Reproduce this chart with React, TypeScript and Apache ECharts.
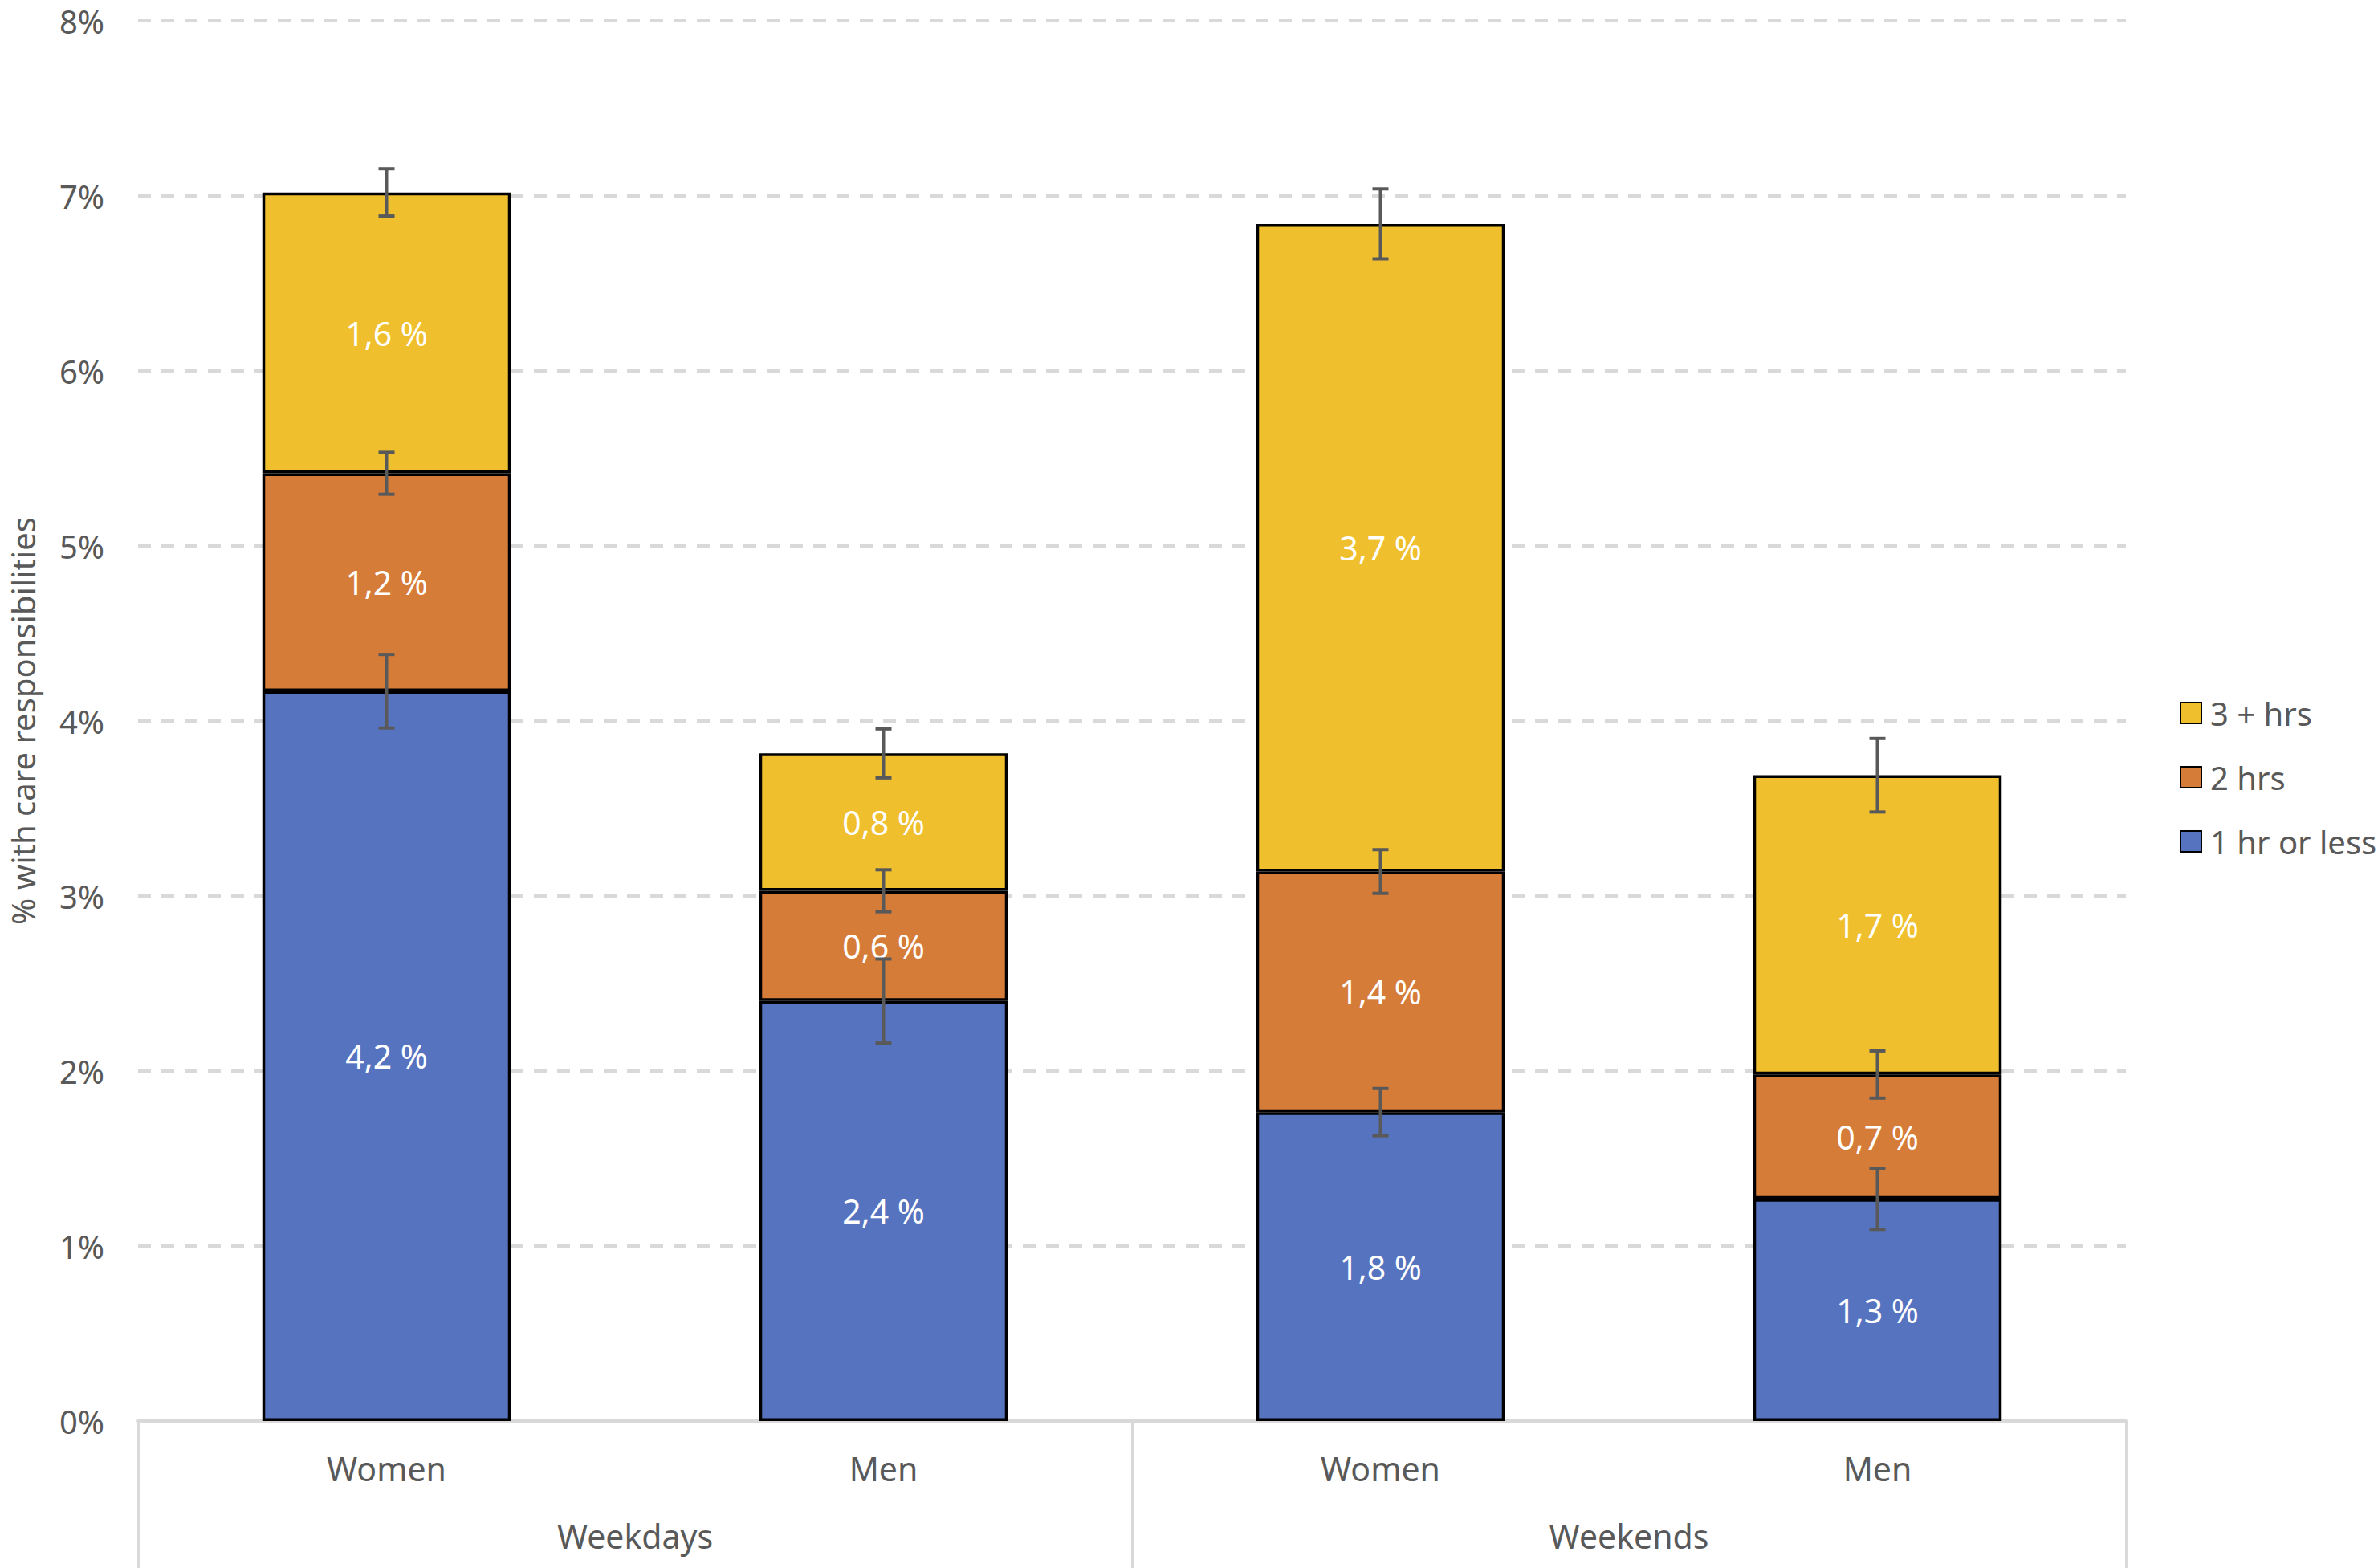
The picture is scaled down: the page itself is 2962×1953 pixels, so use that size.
import React, { useEffect, useRef } from "react";
import * as echarts from "echarts";

const categories = ["Women", "Men", "Women", "Men"];
const groups = ["Weekdays", "Weekends"];
const seriesNames = ["1 hr or less", "2 hrs", "3 + hrs"];
const oneHrOrLess = [4.17, 2.4, 1.765, 1.27];
const twoHrs = [1.245, 0.63, 1.375, 0.71];
const threePlusHrs = [1.605, 0.785, 3.7, 1.71];
const oneHrErr = [0.21, 0.24, 0.135, 0.175];
const twoHrsErr = [0.12, 0.12, 0.125, 0.135];
const threePlusErr = [0.135, 0.14, 0.2, 0.21];
const yTicks = [0, 1, 2, 3, 4, 5, 6, 7, 8];

const colors = ["#5673BF", "#D67C39", "#EFBF2D"];
const FONT = "'Liberation Sans Narrow', 'Arial Narrow', 'Noto Sans', sans-serif";
const GREY = "#595959";

export default function App() {
  const ref = useRef<HTMLDivElement>(null);
  useEffect(() => {
    document.body.style.margin = "0";
    if (!ref.current) return;
    const chart = echarts.init(ref.current, undefined, { renderer: "svg" });
    const values = [oneHrOrLess, twoHrs, threePlusHrs];
    const errs = [oneHrErr, twoHrsErr, threePlusErr];
    const errData: number[][] = [];
    categories.forEach((_, i) => {
      let cum = 0;
      values.forEach((arr, k) => {
        cum += arr[i];
        errData.push([i, cum, errs[k][i]]);
      });
    });
    const fmt = (v: number) => v.toFixed(1).replace(".", ",") + " %";
    chart.setOption({
      animation: false,
      textStyle: { fontFamily: FONT },
      grid: { left: 156, right: 314, top: 26, bottom: 183, containLabel: false },
      legend: {
        orient: "vertical",
        left: 2710,
        top: 863,
        data: ["3 + hrs", "2 hrs", "1 hr or less"],
        icon: "rect",
        itemWidth: 26,
        itemHeight: 26,
        itemGap: 40,
        textStyle: { fontSize: 40, color: GREY, fontFamily: FONT, padding: [0, 0, 0, 6] },
      },
      xAxis: [
        {
          type: "category",
          data: categories,
          axisLine: { show: true, lineStyle: { color: "#D9D9D9", width: 4 } },
          axisTick: { show: false },
          axisLabel: { fontSize: 41, color: GREY, margin: 38, fontFamily: FONT },
        },
        {
          type: "category",
          data: groups,
          position: "bottom",
          axisLine: { show: false },
          axisTick: { show: true, length: 190, lineStyle: { color: "#D9D9D9", width: 3 } },
          axisLabel: { fontSize: 41, color: GREY, margin: 122, fontFamily: FONT },
          splitLine: { show: false },
        },
      ],
      yAxis: {
        type: "value",
        min: 0,
        max: 8,
        interval: 1,
        name: "% with care responsibilities",
        nameLocation: "middle",
        nameGap: 124,
        nameTextStyle: { fontSize: 40, color: GREY, fontFamily: FONT },
        axisLine: { show: false },
        axisTick: { show: false },
        axisLabel: {
          fontSize: 40,
          color: GREY,
          margin: 42,
          fontFamily: FONT,
          formatter: (v: number) => (yTicks.includes(v) ? `${v}%` : ""),
        },
        splitLine: { lineStyle: { color: "#D9D9D9", width: 4, type: [16, 13] } },
      },
      series: [
        ...values.map((arr, k) => ({
          name: seriesNames[k],
          type: "bar",
          stack: "total",
          barWidth: "50%",
          data: arr,
          itemStyle: { color: colors[k], borderColor: "#000", borderWidth: 3.5 },
          label: {
            show: true,
            position: "inside",
            color: "#fff",
            fontSize: 41,
            fontFamily: FONT,
            formatter: (p: any) => fmt(p.value),
          },
        })),
        {
          type: "custom",
          name: "err",
          data: errData,
          z: 10,
          renderItem: (params: any, api: any) => {
            const i = api.value(0);
            const c = api.value(1);
            const e = api.value(2);
            const top = api.coord([i, c + e]);
            const bot = api.coord([i, c - e]);
            const hw = 10;
            const style = { stroke: GREY, lineWidth: 4 };
            return {
              type: "group",
              children: [
                { type: "line", shape: { x1: top[0], y1: top[1], x2: bot[0], y2: bot[1] }, style },
                { type: "line", shape: { x1: top[0] - hw, y1: top[1], x2: top[0] + hw, y2: top[1] }, style },
                { type: "line", shape: { x1: bot[0] - hw, y1: bot[1], x2: bot[0] + hw, y2: bot[1] }, style },
              ],
            };
          },
        },
      ],
    });
    return () => chart.dispose();
  }, []);
  return <div ref={ref} style={{ width: 2962, height: 1953 }} />;
}
